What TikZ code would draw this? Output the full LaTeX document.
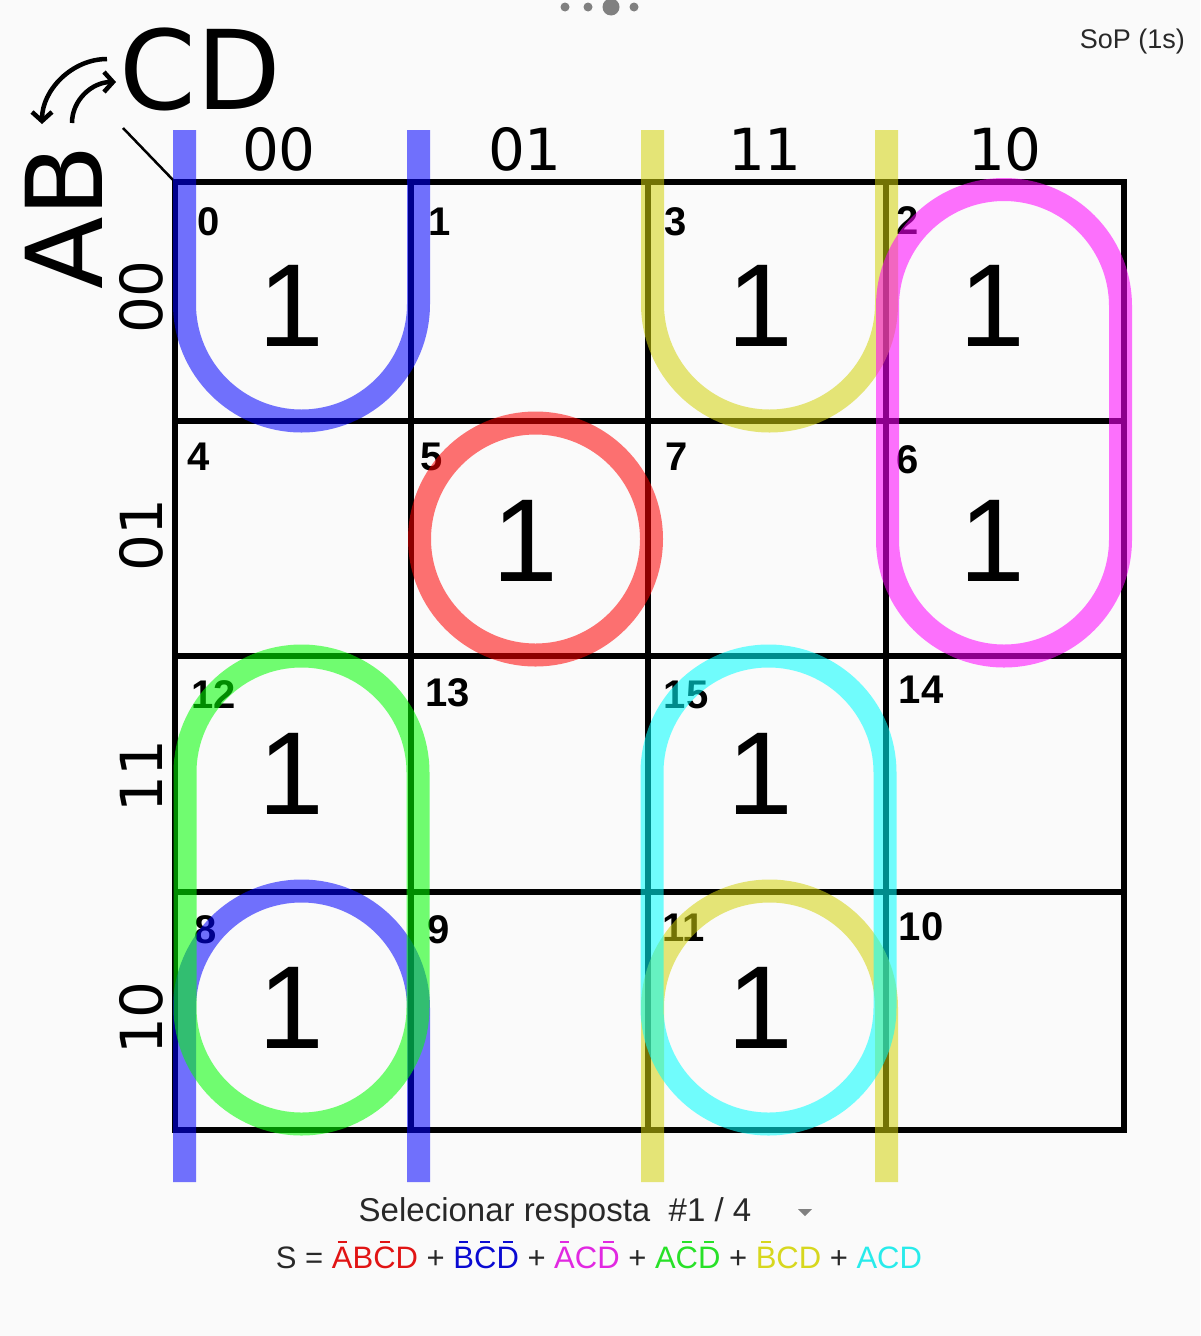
\documentclass[tikz,border=0pt]{standalone}
\usepackage{fontspec}
\setmainfont{DejaVu Sans}
\newfontfamily\libfont{Liberation Sans}
\usetikzlibrary{arrows.meta}
\definecolor{bgc}{RGB}{250,250,250}
\definecolor{txtgray}{RGB}{40,40,40}
\definecolor{dotgray}{RGB}{128,128,128}
\definecolor{tred}{RGB}{225,20,20}
\definecolor{tblue}{RGB}{10,10,210}
\definecolor{tmag}{RGB}{225,40,225}
\definecolor{tgreen}{RGB}{40,225,40}
\definecolor{tyellow}{RGB}{215,215,30}
\definecolor{tcyan}{RGB}{40,235,235}
\definecolor{gblue}{RGB}{0,0,255}
\definecolor{gred}{RGB}{255,0,0}
\definecolor{gmag}{RGB}{255,0,255}
\definecolor{ggreen}{RGB}{0,255,0}
\definecolor{gcyan}{RGB}{0,255,255}
\definecolor{gyellow}{RGB}{210,210,10}
\newcommand\obar[1]{\leavevmode\setbox0\hbox{#1}\rlap{\hbox to\wd0{\hss\raisebox{0.84em}{\rule{0.45\wd0}{2.2pt}}\hss}}\box0}
\begin{document}
\begin{tikzpicture}[x=1pt,y=-1pt,
  grid/.style={line width=6pt, line cap=rect},
  loopline/.style={line width=23pt, draw opacity=0.55},
  cellnum/.style={inner sep=0pt, font=\libfont\bfseries\fontsize{40}{40}\selectfont},
  one/.style={inner sep=0pt, font=\libfont\fontsize{118}{118}\selectfont},
  hdr/.style={inner sep=0pt, font=\fontsize{58}{58}\selectfont},
  rowlab/.style={inner sep=0pt, rotate=90, font=\fontsize{58}{58}\selectfont},
  swap/.style={line width=4.5pt, -{Straight Barb[length=9pt,width=20pt,line width=4.5pt]}}
]
\useasboundingbox (0,0) rectangle (1200,1336);
\fill[bgc] (0,0) rectangle (1200,1336);

% top dots
\fill[dotgray] (565,7) circle[radius=4.5];
\fill[dotgray] (588,7) circle[radius=4.5];
\fill[dotgray] (611,7) circle[radius=8.5];
\fill[dotgray] (634,7) circle[radius=4.5];

\node[anchor=east, inner sep=0pt, text=txtgray, font=\libfont\fontsize{27}{27}\selectfont] (sop) at (1185,42) {SoP (1s)};

% grid
\draw[grid] (175,182) rectangle (1124,1130);
\foreach \xx in {411,648,886} \draw[grid] (\xx,182) -- (\xx,1130);
\foreach \yy in {421,656,892} \draw[grid] (175,\yy) -- (1124,\yy);
\draw[line width=2.5pt] (123,128) -- (175,182);

% AB / CD
\node[inner sep=0pt, font=\fontsize{110}{110}\selectfont] (cd) at (200,69) {CD};
\node[inner sep=0pt, rotate=90, font=\fontsize{106}{106}\selectfont] (ab) at (64,217) {AB};
\coordinate (o1) at (107,59);
\coordinate (o2) at (42,124);
\coordinate (i1) at (72,123);
\coordinate (i2) at (116,82);
\draw[swap] (o1) .. controls (72,59) and (42,90) .. (o2);
\draw[swap] (i1) .. controls (72,100) and (92,82) .. (i2);

% headers
\node[hdr] (h00) at (279,149) {00};
\node[hdr] (h01) at (525,149) {01};
\node[hdr] (h11) at (765,149) {11};
\node[hdr] (h10) at (1005,149) {10};
\node[rowlab] (r00) at (141,297) {00};
\node[rowlab] (r01) at (141,535) {01};
\node[rowlab] (r11) at (141,776) {11};
\node[rowlab] (r10) at (141,1018) {10};

% cell numbers
\node[cellnum] (n0) at (209,222) {0};
\node[cellnum] (n1) at (440,222) {1};
\node[cellnum] (n3) at (676,222) {3};
\node[cellnum] (n2) at (908,221) {2};
\node[cellnum] (n4) at (199,457) {4};
\node[cellnum] (n5) at (432,457) {5};
\node[cellnum] (n7) at (677,457) {7};
\node[cellnum] (n6) at (908,460) {6};
\node[cellnum] (n12) at (214,695) {12};
\node[cellnum] (n13) at (448,693) {13};
\node[cellnum] (n15) at (686,695) {15};
\node[cellnum] (n14) at (921,690) {14};
\node[cellnum] (n8) at (206,930) {8};
\node[cellnum] (n9) at (439,930) {9};
\node[cellnum] (n11) at (684,928) {11};
\node[cellnum] (n10) at (921,927) {10};

% ones
\node[one] (v0) at (291,306) {1};
\node[one] (v3) at (760,306) {1};
\node[one] (v2) at (992,306) {1};
\node[one] (v5) at (525,541) {1};
\node[one] (v6) at (992,541) {1};
\node[one] (v12) at (291,774) {1};
\node[one] (v15) at (760,774) {1};
\node[one] (v8) at (291,1008) {1};
\node[one] (v11) at (760,1008) {1};

% groups
\draw[loopline, gblue] (184.5,130) -- (184.5,304) arc[start angle=180, end angle=0, radius=117] -- (418.5,130);
\draw[loopline, gblue] (184.5,1182) -- (184.5,1008) arc[start angle=180, end angle=360, radius=117] -- (418.5,1182);
\draw[loopline, gyellow] (652.5,130) -- (652.5,304) arc[start angle=180, end angle=0, radius=117] -- (886.5,130);
\draw[loopline, gyellow] (652.5,1182) -- (652.5,1008) arc[start angle=180, end angle=360, radius=117] -- (886.5,1182);
\draw[loopline, gred] (535.5,539) circle[radius=116];
\draw[loopline, gmag] (887.5,306) -- (887.5,539.5) arc[start angle=180, end angle=0, radius=116.5] -- (1120.5,306) arc[start angle=0, end angle=-180, radius=116.5] -- cycle;
\draw[loopline, ggreen] (185,772.5) -- (185,1007.5) arc[start angle=180, end angle=0, radius=116.5] -- (418,772.5) arc[start angle=0, end angle=-180, radius=116.5] -- cycle;
\draw[loopline, gcyan] (652,772.5) -- (652,1007.5) arc[start angle=180, end angle=0, radius=116.5] -- (885,772.5) arc[start angle=0, end angle=-180, radius=116.5] -- cycle;

% bottom texts
\node[inner sep=0pt, text=txtgray, font=\libfont\fontsize{33}{33}\selectfont] (sel) at (555,1213) {Selecionar resposta\ \ \#1 / 4};
\coordinate (tri) at (805,1212);
\fill[dotgray] ([xshift=-7pt,yshift=3pt]tri) -- ([xshift=7pt,yshift=3pt]tri) -- ([yshift=-4pt]tri) -- cycle;
\node[inner sep=0pt, text=txtgray, font=\libfont\fontsize{31}{31}\selectfont] (formula) at (599,1255)
 {S = \textcolor{tred}{\obar{A}B\obar{C}D} + \textcolor{tblue}{\obar{B}\obar{C}\obar{D}} + \textcolor{tmag}{\obar{A}C\obar{D}} + \textcolor{tgreen}{A\obar{C}\obar{D}} + \textcolor{tyellow}{\obar{B}CD} + \textcolor{tcyan}{ACD}};
\end{tikzpicture}
\end{document}
